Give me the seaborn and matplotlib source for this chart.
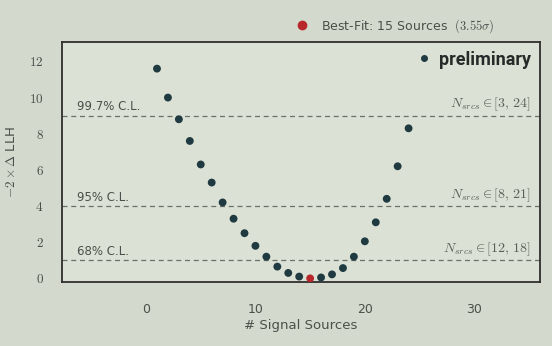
import numpy as np
import pandas as pd
import matplotlib
matplotlib.use("Agg")
import matplotlib.pyplot as plt
import seaborn as sns
from matplotlib.lines import Line2D

# ---- data ----
n_sources = list(range(1, 25))
llh = [11.6, 10.0, 8.8, 7.6, 6.3, 5.3, 4.2, 3.3, 2.5, 1.8, 1.2, 0.65,
       0.3, 0.1, 0.0, 0.05, 0.22, 0.57, 1.2, 2.05, 3.1, 4.4, 6.2, 8.3]
best_fit = 15
cl_levels = [1.0, 4.0, 9.0]
cl_labels = ["68% C.L.", "95% C.L.", "99.7% C.L."]
intervals = [r"[12,\,18]", r"[8,\,21]", r"[3,\,24]"]
x_ticks = [0, 10, 20, 30]
y_ticks = [0, 2, 4, 6, 8, 10, 12]

sns.set_theme(style="white")
plt.rcParams["font.family"] = ["DejaVu Sans"]
plt.rcParams["mathtext.fontset"] = "cm"

bg = "#d3d9cc"
axbg = "#dce1d5"
dot_c = "#1f3a40"
red_c = "#b8282a"
txt_c = "#4a4f4a"

fig = plt.figure(figsize=(5.52, 3.46), dpi=100, facecolor=bg)
ax = fig.add_axes([0.112, 0.185, 0.866, 0.695], facecolor=axbg)

df = pd.DataFrame({"n": n_sources, "llh": llh})
df["kind"] = np.where(df["n"] == best_fit, "best", "scan")
sns.scatterplot(data=df, x="n", y="llh", hue="kind",
                palette={"scan": dot_c, "best": red_c},
                s=32, linewidth=0, legend=False, ax=ax, zorder=3)

ax.set_xlim(-7.7, 36)
ax.set_ylim(-0.2, 13.1)

for lvl, lab, iv in zip(cl_levels, cl_labels, intervals):
    ax.axhline(lvl, ls=(0, (4, 3)), color="#6b706a", lw=0.9, zorder=1)
    ax.text(-6.3, lvl + 0.12, lab, ha="left", va="bottom",
            fontsize=8.5, color=txt_c)
    ax.text(35.2, lvl + 0.12, r"$N_{srcs} \in " + iv + "$", ha="right",
            va="bottom", fontsize=10, color="#5a5f5a")

ax.set_xticks(x_ticks)
ax.set_yticks(y_ticks)
ax.set_yticklabels([f"${v}$" for v in y_ticks])
ax.tick_params(axis="x", direction="out", length=3, pad=12,
               labelsize=9, colors=txt_c, color="#2e2e2e")
ax.tick_params(axis="y", direction="out", length=3, pad=10,
               labelsize=9.5, colors=txt_c, color="#2e2e2e")
for sp in ax.spines.values():
    sp.set_color("#2e2e2e")
    sp.set_linewidth(1.3)

ax.set_xlabel("# Signal Sources", fontsize=9.5, color=txt_c, labelpad=2)
ax.set_ylabel(r"$-2\times\Delta$ LLH", fontsize=9.5, color=txt_c, labelpad=8)

h_pre = Line2D([], [], marker="o", ls="", color=dot_c, markersize=4)
leg2 = ax.legend([h_pre], ["preliminary"], loc="upper right", frameon=False,
                 prop=dict(family="Roboto", weight="bold", size=13),
                 handletextpad=0.3, borderaxespad=0.1, handlelength=1.0)
for t in leg2.get_texts():
    t.set_color("#262a28")

h_best = Line2D([], [], marker="o", ls="", color=red_c, markersize=6)
fig.legend([h_best], [r"Best-Fit: 15 Sources  $(3.55\sigma)$"],
           loc="center left", bbox_to_anchor=(0.515, 0.925), frameon=False,
           fontsize=9, handletextpad=1.0, handlelength=1.0,
           labelcolor=txt_c)

fig.savefig("out.png", dpi=100, facecolor=bg)
